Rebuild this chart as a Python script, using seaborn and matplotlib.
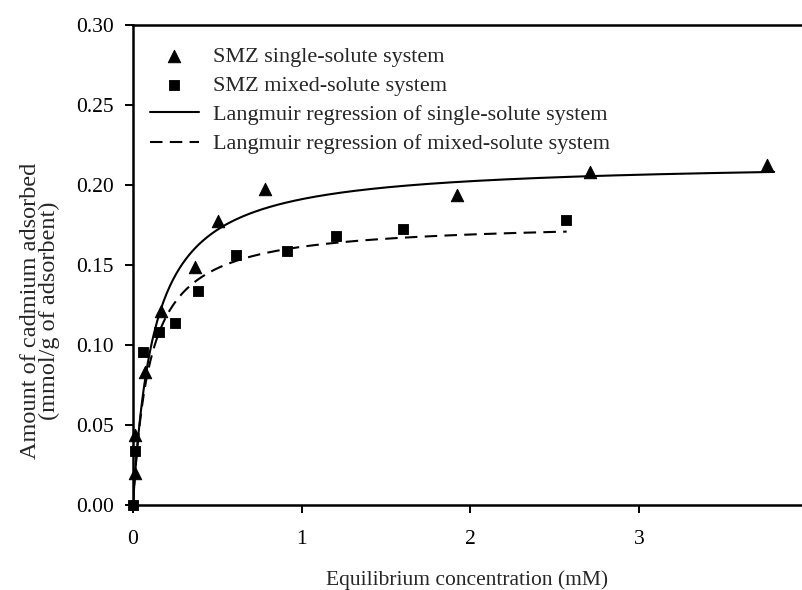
import numpy as np
import pandas as pd
import matplotlib
matplotlib.use("Agg")
import matplotlib.pyplot as plt
import seaborn as sns

# Data
single_x = [0.01, 0.01, 0.07, 0.165, 0.365, 0.506, 0.78, 1.92, 2.71, 3.76]
single_y = [0.020, 0.044, 0.083, 0.121, 0.149, 0.1775, 0.1975, 0.194, 0.208, 0.2125]
mixed_x = [0.0, 0.01, 0.06, 0.153, 0.247, 0.388, 0.61, 0.91, 1.206, 1.60, 2.565]
mixed_y = [0.0, 0.034, 0.0956, 0.108, 0.114, 0.134, 0.156, 0.159, 0.168, 0.1725, 0.178]

# Langmuir regression parameters (Qmax, K) and curve extents
single_fit = {"qmax": 0.215, "k": 8.0, "cmax": 3.8}
mixed_fit = {"qmax": 0.1775, "k": 10.0, "cmax": 2.57}

labels = ["SMZ single-solute system", "SMZ mixed-solute system",
          "Langmuir regression of single-solute system",
          "Langmuir regression of mixed-solute system"]
y_ticks = [0.00, 0.05, 0.10, 0.15, 0.20, 0.25, 0.30]
x_ticks = [0, 1, 2, 3, 4]

sns.set_style("ticks")
plt.rcParams['font.family'] = ['Liberation Serif', 'DejaVu Serif']

def langmuir(p):
    c = np.linspace(0, p["cmax"], 400)
    return c, p["qmax"] * p["k"] * c / (1 + p["k"] * c)

fig = plt.figure(figsize=(8.03, 5.90), dpi=100)
ax = fig.add_axes([0.1656, 0.1441, 0.8406, 0.8136])

cs, qs = langmuir(single_fit)
cm, qm = langmuir(mixed_fit)
sns.lineplot(x=cs, y=qs, ax=ax, color="black", lw=1.5, label=labels[2], zorder=2)
sns.lineplot(x=cm, y=qm, ax=ax, color="black", lw=1.5, linestyle=(0, (6, 3.5)),
             label=labels[3], zorder=2)
sns.scatterplot(x=single_x, y=single_y, ax=ax, marker="^", s=80, color="black",
                edgecolor="black", label=labels[0], zorder=3, clip_on=False)
sns.scatterplot(x=mixed_x, y=mixed_y, ax=ax, marker="s", s=60, color="black",
                edgecolor="black", label=labels[1], zorder=3, clip_on=False)

ax.set_xlim(0, 4)
ax.set_ylim(0, 0.30)
ax.set_yticks(y_ticks)
ax.set_yticklabels([f"{v:.2f}" for v in y_ticks])
ax.set_xticks(x_ticks)
ax.tick_params(direction="out", length=6, width=1.4, labelsize=15.5, colors="black")
ax.tick_params(axis="x", pad=12)
ax.tick_params(axis="y", pad=8)
for s in ax.spines.values():
    s.set_linewidth(1.8)
    s.set_color("black")

ax.set_xlabel("Equilibrium concentration (mM)", fontsize=15.5)
ax.xaxis.set_label_coords(0.495, -0.135)
ax.set_ylabel("Amount of cadmium adsorbed\n(mmol/g of adsorbent)", fontsize=17.5,
              linespacing=0.85)
ax.yaxis.set_label_coords(-0.108, 0.404)

h, l = ax.get_legend_handles_labels()
order = [l.index(x) for x in labels]
ax.legend([h[i] for i in order], [l[i] for i in order], loc="upper left",
          bbox_to_anchor=(0.025, 0.956), frameon=False, fontsize=16,
          handlelength=2.2, handletextpad=0.65, labelspacing=0.39,
          borderaxespad=0.0, borderpad=0.0)

fig.savefig("out.png", dpi=100)
